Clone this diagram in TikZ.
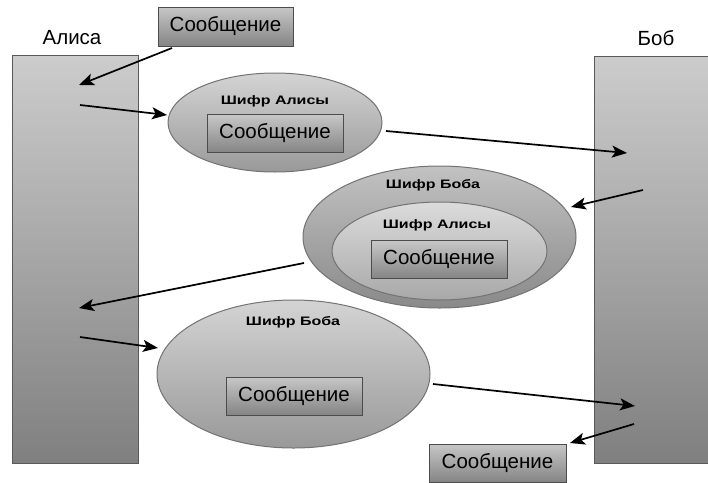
\documentclass[tikz,border=0pt]{standalone}
\usepackage{fontspec}
\setmainfont{Liberation Sans}
\usetikzlibrary{shapes.geometric,arrows.meta}
\begin{document}
\begin{tikzpicture}[x=1pt,y=-1pt,
  party/.style={draw=black!65,line width=1pt,rectangle,inner sep=0pt,
    top color=black!20,bottom color=black!50},
  msgbox/.style={draw=black!70,line width=1pt,rectangle,inner sep=0pt,
    minimum width=136pt,minimum height=38pt,
    top color=black!22,bottom color=black!48,
    font=\fontsize{20.5}{22}\selectfont},
  cipher/.style={draw=black!55,line width=1pt,ellipse,inner sep=0pt,
    top color=black!17,bottom color=black!40},
  ciphertext/.style={font=\bfseries\fontsize{12.3}{14}\selectfont,inner sep=0pt},
  who/.style={font=\fontsize{20.5}{22}\selectfont,inner sep=0pt},
  flow/.style={line width=1.7pt,-{Stealth[length=15pt,width=12pt,inset=3.5pt]}}
]
\useasboundingbox (0,0) rectangle (708,482);

% Alice and Bob
\node[party,minimum width=126pt,minimum height=408pt] (alice) at (75,259.5) {};
\node[party,minimum width=120pt,minimum height=407pt] (bob) at (654,259.5) {};
\node[who] (alicelbl) at (72,38) {Алиса};
\node[who] (boblbl) at (656,38) {Боб};

% plain message handed to Alice
\node[msgbox,minimum width=135pt,minimum height=39pt] (msg1) at (225.5,26.5) {Сообщение};

% message under Alice's cipher
\node[cipher,minimum width=214pt,minimum height=99pt] (e1) at (275,122.5) {};
\node[ciphertext] (e1t) at (275,101) {\scalebox{1.3}[1]{Шифр Алисы}};
\node[msgbox] (m1) at (275,133.5) {Сообщение};

% message under both ciphers
\node[cipher,top color=black!24,bottom color=black!46,minimum width=273pt,minimum height=142pt] (e2) at (439.5,237) {};
\node[ciphertext] (e2t) at (433,185) {\scalebox{1.3}[1]{Шифр Боба}};
\node[cipher,top color=black!14,bottom color=black!34,minimum width=215pt,minimum height=98pt] (e3) at (439.5,251) {};
\node[ciphertext] (e3t) at (437,225) {\scalebox{1.3}[1]{Шифр Алисы}};
\node[msgbox] (m2) at (439,259.5) {Сообщение};

% message under Bob's cipher only
\node[cipher,minimum width=273pt,minimum height=148pt] (e4) at (293.5,374) {};
\node[ciphertext] (e4t) at (293,322) {\scalebox{1.3}[1]{Шифр Боба}};
\node[msgbox] (m3) at (294,396) {Сообщение};

% plain message delivered to Bob
\node[msgbox,minimum width=137pt] (msg2) at (497.5,463) {Сообщение};

% arrow end points
\coordinate (s1) at (172,48);  \coordinate (t1) at (79,85);
\coordinate (s2) at (80,105);  \coordinate (t2) at (167,115);
\coordinate (s3) at (386,131); \coordinate (t3) at (627,153);
\coordinate (s4) at (643,190); \coordinate (t4) at (571,207);
\coordinate (s5) at (304,263); \coordinate (t5) at (79,308);
\coordinate (s6) at (80,337);  \coordinate (t6) at (158,348);
\coordinate (s7) at (433,384); \coordinate (t7) at (635,406);
\coordinate (s8) at (634,424); \coordinate (t8) at (570,443);

\draw[flow] (s1) -- (t1);
\draw[flow] (s2) -- (t2);
\draw[flow] (s3) -- (t3);
\draw[flow] (s4) -- (t4);
\draw[flow] (s5) -- (t5);
\draw[flow] (s6) -- (t6);
\draw[flow] (s7) -- (t7);
\draw[flow] (s8) -- (t8);
\end{tikzpicture}
\end{document}
